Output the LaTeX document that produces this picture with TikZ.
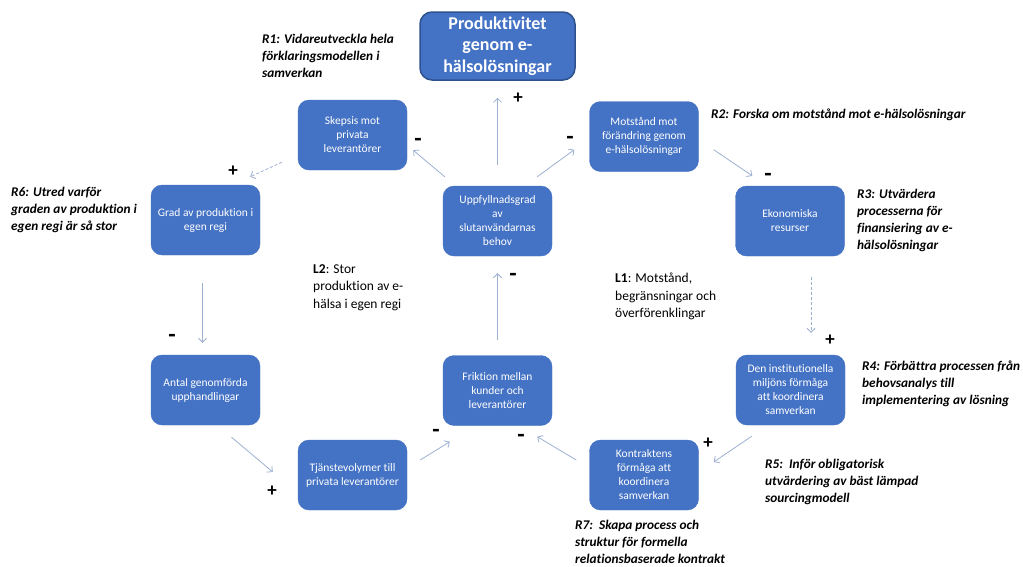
\documentclass[tikz,border=0pt]{standalone}
\usepackage{fontspec}
\setmainfont{Carlito}[RawFeature={-liga;-clig;-dlig}]
\usetikzlibrary{arrows.meta,calc}
\definecolor{boxblue}{HTML}{4472C4}
\definecolor{boxedge}{HTML}{2F528F}
\definecolor{arrowc}{RGB}{158,176,210}
\begin{document}
\begin{tikzpicture}[x=1pt,y=-1pt,
  box/.style={rectangle,rounded corners=11pt,fill=boxblue,draw=boxblue,line width=0.4pt,
    minimum width=109pt,minimum height=70pt,text=white,align=center,
    font=\fontsize{11.5}{14}\selectfont,inner sep=2pt},
  titlebox/.style={rectangle,rounded corners=12pt,fill=boxblue,draw=boxedge,line width=1.5pt,
    minimum width=155pt,minimum height=68pt,text=white,align=center,
    font=\fontsize{18}{21.7}\selectfont\bfseries,inner sep=2pt},
  rtext/.style={anchor=north west,align=left,inner sep=0pt,
    font=\fontsize{13.3}{17}\selectfont\bfseries\itshape},
  ltext/.style={anchor=north west,align=left,inner sep=0pt,
    font=\fontsize{13.5}{17.5}\selectfont},
  sign/.style={inner sep=0pt,font=\fontsize{19}{19}\selectfont\bfseries},
  minus/.style={inner sep=0pt,font=\fontsize{24}{24}\selectfont\bfseries},
  arr/.style={draw=arrowc,line width=0.8pt,-{Straight Barb[length=4pt,width=8pt]}},
  darr/.style={arr,dash pattern=on 3pt off 2pt}]
\useasboundingbox (0,0) rectangle (1023,566);
\fill[white] (0,0) rectangle (1023,566);

% boxes
\node[titlebox] (prod) at (497.5,46) {Produktivitet\\genom e-\\hälsolösningar};
\node[box] (skep) at (352.5,135) {Skepsis mot\\privata\\leverantörer};
\node[box] (mots) at (644,136.5) {Motstånd mot\\förändring genom\\e-hälsolösningar};
\node[box] (grad) at (205.5,220) {Grad av produktion i\\egen regi};
\node[box] (upp) at (497.5,221) {Uppfyllnadsgrad\\av\\slutanvändarnas\\behov};
\node[box] (ekon) at (790,221) {Ekonomiska\\resurser};
\node[box] (antal) at (205.5,390) {Antal genomförda\\upphandlingar};
\node[box] (frik) at (497.5,390.5) {Friktion mellan\\kunder och\\leverantörer};
\node[box] (inst) at (790.5,390) {Den institutionella\\miljöns förmåga\\att koordinera\\samverkan};
\node[box] (tjan) at (352.5,475) {Tjänstevolymer till\\privata leverantörer};
\node[box] (kont) at (644,475) {Kontraktens\\förmåga att\\koordinera\\samverkan};

% connectors
\draw[arr] ($(upp.north)+(0,-21)$) -- ($(prod.south)+(0,17)$);
\draw[arr] ($(upp.north west)+(2,-9)$) -- ($(skep.south east)+(6,-20)$);
\draw[arr] ($(upp.north east)+(-15,-9)$) -- ($(mots.south west)+(-15,-22)$);
\draw[darr] ($(skep.south west)+(-16,-8)$) -- ($(grad.north east)+(-10,-8)$);
\draw[arr] ($(mots.south east)+(15,-22)$) -- ($(ekon.north west)+(17,-10)$);
\draw[darr] ($(ekon.south)+(21,21)$) -- ($(inst.north)+(20.5,-22)$);
\draw[arr] ($(inst.south west)+(16,11)$) -- ($(kont.east)+(15,-13)$);
\draw[arr] ($(kont.west)+(-13,-15)$) -- ($(frik.south east)+(-15,11)$);
\draw[arr] ($(tjan.east)+(13,-15)$) -- ($(frik.south west)+(7,16)$);
\draw[arr] ($(antal.south)+(26,12)$) -- ($(tjan.west)+(-25,-3)$);
\draw[arr] ($(grad.south)+(-3,28)$) -- ($(antal.north)+(-3,-12)$);
\draw[arr] ($(frik.north)+(0,-15)$) -- ($(upp.south)+(0,17)$);

% signs
\node[sign] (s1) at (518,98) {+};
\node[minus] (s2) at (418,142) {-};
\node[minus] (s3) at (570,140) {-};
\node[sign] (s4) at (233,171) {+};
\node[minus] (s5) at (768,177) {-};
\node[sign] (s6) at (830,340) {+};
\node[sign] (s7) at (708,443) {+};
\node[minus] (s8) at (521,438) {-};
\node[minus] (s9) at (436,433) {-};
\node[sign] (s10) at (272,491) {+};
\node[minus] (s11) at (172,338) {-};
\node[minus] (s12) at (513,277) {-};

% recommendation texts
\node[rtext] (r1) at (262,34) {R1: Vidareutveckla hela\\förklaringsmodellen i\\samverkan};
\node[rtext] (r2) at (711,109) {R2: Forska om motstånd mot e-hälsolösningar};
\node[rtext] (r3) at (857,189) {R3: Utvärdera\\processerna för\\finansiering av e-\\hälsolösningar};
\node[rtext] (r4) at (862,361) {R4: Förbättra processen från\\behovsanalys till\\implementering av lösning};
\node[rtext] (r5) at (765,459) {R5:\ \ Inför obligatorisk\\utvärdering av bäst lämpad\\sourcingmodell};
\node[rtext] (r6) at (11,187) {R6: Utred varför\\graden av produktion i\\egen regi är så stor};
\node[rtext] (r7) at (575,520) {R7:\ \ Skapa process och\\struktur för formella\\relationsbaserade kontrakt};

% loop texts
\node[ltext] (l2) at (313,264) {\textbf{L2}: Stor\\produktion av e-\\hälsa i egen regi};
\node[ltext] (l1) at (615,273) {\textbf{L1}: Motstånd,\\begränsningar och\\överförenklingar};
\end{tikzpicture}
\end{document}
